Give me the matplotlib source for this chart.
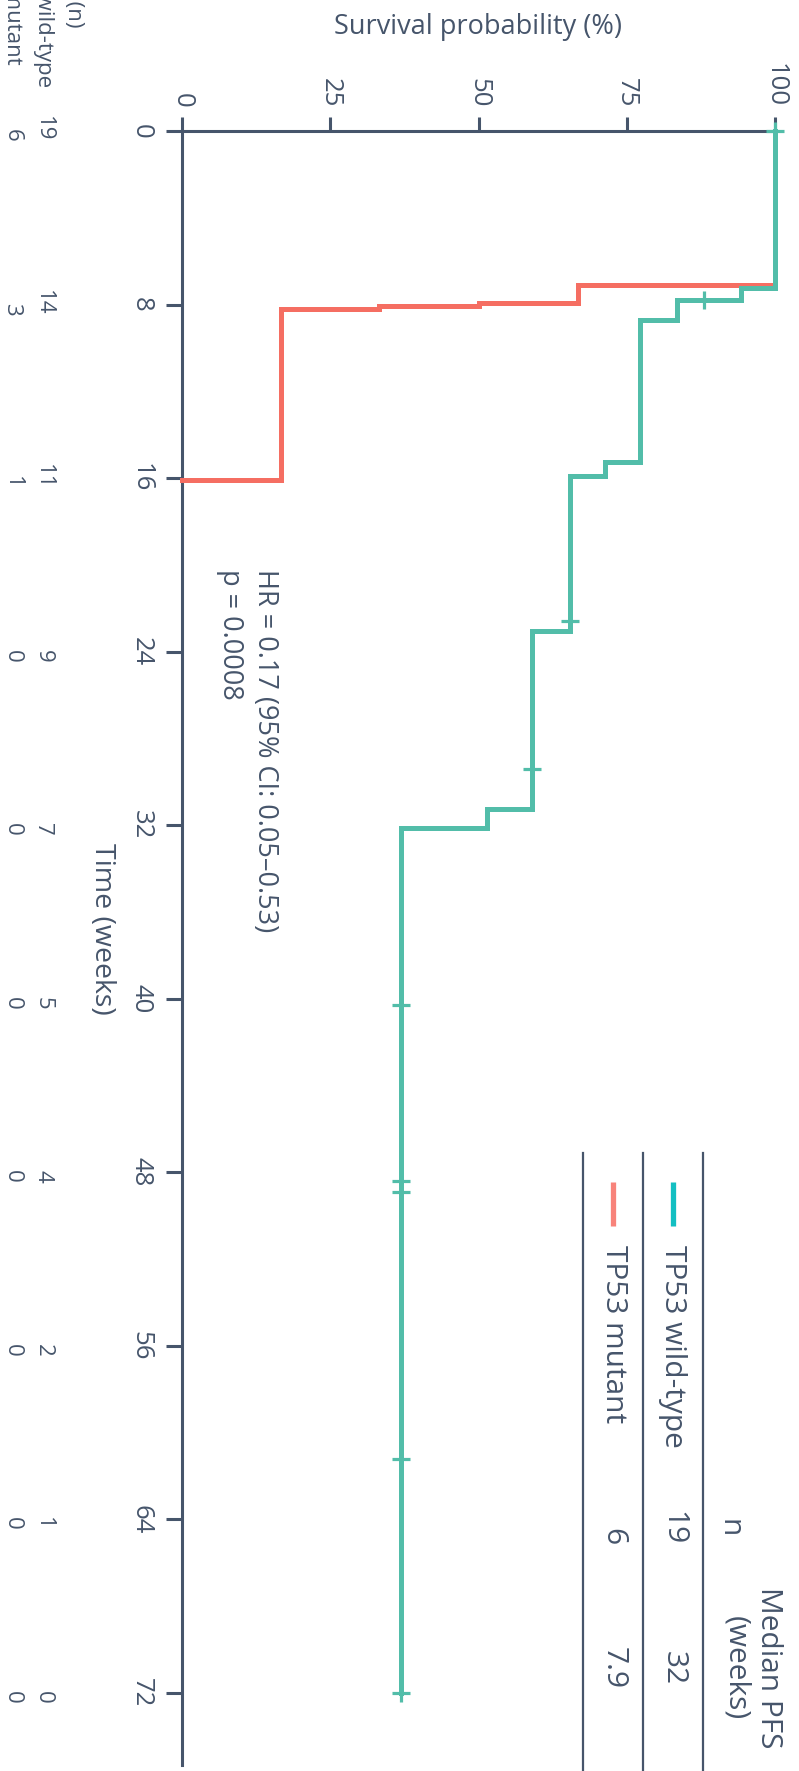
import matplotlib
matplotlib.use("Agg")
import matplotlib.pyplot as plt
from matplotlib.lines import Line2D
from matplotlib.transforms import blended_transform_factory, offset_copy

plt.rcParams["font.family"] = ["Open Sans", "DejaVu Sans"]

# Kaplan-Meier steps: event times (weeks) and survival (%) after each step
wt_times = [0, 7.25, 7.8, 8.7, 15.25, 15.9, 23.05, 31.25, 32.15, 72]
wt_surv = [100, 94.3, 83.4, 77.2, 71.3, 65.4, 59.0, 51.4, 36.9, 36.9]
wt_cens_t = [0, 7.8, 22.6, 29.4, 40.3, 48.4, 48.9, 61.2, 72.0]
wt_cens_s = [100, 88.0, 65.4, 59.0, 36.9, 36.9, 36.9, 36.9, 36.9]

mut_times = [0, 7.1, 7.93, 8.07, 8.2, 16.1]
mut_surv = [100, 66.7, 50.0, 33.3, 16.7, 0]

time_ticks = [0, 8, 16, 24, 32, 40, 48, 56, 64, 72]
surv_ticks = [0, 25, 50, 75, 100]
risk_wt = [19, 14, 11, 9, 7, 5, 4, 2, 1, 0]
risk_mut = [6, 3, 1, 0, 0, 0, 0, 0, 0, 0]

groups = ["TP53 wild-type", "TP53 mutant"]
group_n = [19, 6]
median_pfs = ["32", "7.9"]
hr_text = "HR = 0.17 (95% CI: 0.05\u20130.53)\np = 0.0008"

TEAL = "#52BDA9"
RED = "#F56E62"
LEG_TEAL = "#13BFC2"
LEG_RED = "#F8837A"
INK = "#46556B"

W, H = 799, 1771


def fx(px):
    return px / W


def fy(py):
    return 1 - py / H


fig = plt.figure(figsize=(W / 100, H / 100), dpi=100)
# time runs down the page, survival runs left to right
ax = fig.add_axes([fx(182), fy(1765), (775 - 182) / W, (1765 - 131) / H])
ax.set_xlim(0, 100)
ax.set_ylim(75.33, 0)

for side in ("right", "bottom"):
    ax.spines[side].set_visible(False)
for side in ("left", "top"):
    ax.spines[side].set_color(INK)
    ax.spines[side].set_linewidth(2.2)

ax.xaxis.tick_top()
ax.set_xticks(surv_ticks)
ax.set_xticklabels([str(v) for v in surv_ticks], rotation=270,
                   va="bottom", ha="center")
ax.set_yticks(time_ticks)
ax.set_yticklabels([str(v) for v in time_ticks], rotation=270,
                   va="center", ha="right")
ax.tick_params(axis="x", length=10, width=2.2, color=INK, labelcolor=INK,
               labelsize=18.5, pad=7)
ax.tick_params(axis="y", length=11.5, width=2.2, color=INK, labelcolor=INK,
               labelsize=18.5, pad=9)

ax.step(mut_surv, mut_times, where="pre", color=RED, lw=3.6,
        solid_joinstyle="miter", clip_on=False, zorder=3)
ax.step(wt_surv, wt_times, where="pre", color=TEAL, lw=3.6,
        solid_joinstyle="miter", clip_on=False, zorder=4)
ax.plot(wt_cens_s, wt_cens_t, ls="none", marker="+", ms=13.5, mew=2.3,
        color=TEAL, clip_on=False, zorder=5)

ax.text(11, 20.2, hr_text, rotation=270, ha="center", va="top",
        multialignment="left", fontsize=19.5, color=INK, linespacing=1.35)

fig.text(fx(478), fy(27), "Survival probability (%)", ha="center",
         va="center", fontsize=19.5, color=INK)
fig.text(fx(102), fy(929), "Time (weeks)", rotation=270, ha="center",
         va="center", fontsize=20.5, color=INK)

# numbers at risk, one column per group, left of the time axis
risk_tr = offset_copy(blended_transform_factory(fig.transFigure, ax.transData),
                      fig=fig, x=0, y=-11, units="dots")
for col_x, counts in ((43, risk_wt), (12, risk_mut)):
    for t, n in zip(time_ticks, counts):
        ax.text(fx(col_x), t, str(n), transform=risk_tr, rotation=270,
                ha="center", va="bottom", fontsize=16, color=INK)
for col_x, end_y, label in ((73, 28, "Number at risk (n)"),
                            (43, 87, groups[0]), (12, 65, groups[1])):
    fig.text(fx(col_x), fy(end_y), label, rotation=270, ha="center",
             va="bottom", fontsize=16, color=INK)

# legend table with median PFS
for lx in (583, 643, 703):
    fig.add_artist(Line2D([fx(lx), fx(lx)], [fy(1153), fy(1771)],
                          color=INK, lw=1.6))
for row_x, color, label, n, med in ((673, LEG_TEAL, groups[0], group_n[0],
                                     median_pfs[0]),
                                    (613, LEG_RED, groups[1], group_n[1],
                                     median_pfs[1])):
    fig.add_artist(Line2D([fx(row_x), fx(row_x)], [fy(1182), fy(1226)],
                          color=color, lw=3.8, solid_capstyle="butt"))
    fig.text(fx(row_x), fy(1245), label, rotation=270, ha="center", va="top",
             fontsize=21.5, color=INK)
    fig.text(fx(row_x), fy(1545), str(n), rotation=270, ha="center",
             va="bottom", fontsize=21.5, color=INK)
    fig.text(fx(row_x), fy(1668), med, rotation=270, ha="center",
             va="center", fontsize=21.5, color=INK)
fig.text(fx(729), fy(1528), "n", rotation=270, ha="center", va="center",
         fontsize=21.5, color=INK)
fig.text(fx(752), fy(1668), "Median PFS\n(weeks)", rotation=270, ha="center",
         va="center", multialignment="center", fontsize=21.5, color=INK,
         linespacing=1.15)

fig.savefig("out.png", dpi=100)
